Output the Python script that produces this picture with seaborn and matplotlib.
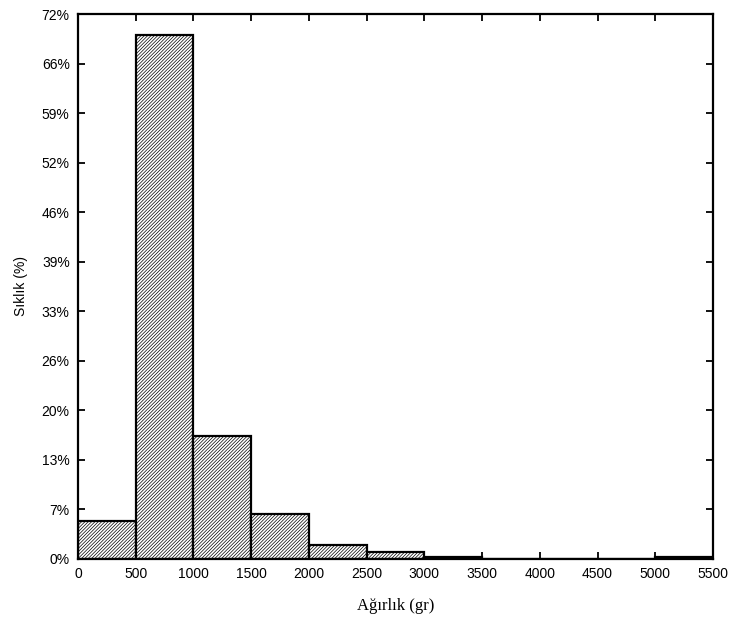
import numpy as np
import pandas as pd
import matplotlib
matplotlib.use("Agg")
import matplotlib.pyplot as plt
import seaborn as sns

# Weight classes (gr) and share of fish in each class (%)
bin_edges = [0, 500, 1000, 1500, 2000, 2500, 3000, 3500, 4000, 4500, 5000, 5500]
percentages = [5.0, 69.2, 16.3, 5.9, 1.9, 0.9, 0.3, 0.0, 0.0, 0.0, 0.3]
x_ticks = [0, 500, 1000, 1500, 2000, 2500, 3000, 3500, 4000, 4500, 5000, 5500]
y_tick_labels = ["0%", "7%", "13%", "20%", "26%", "33%", "39%", "46%", "52%", "59%", "66%", "72%"]
y_max = 72

sns.set_style("white")
plt.rcParams["font.family"] = ["Liberation Sans", "DejaVu Sans"]
plt.rcParams["hatch.linewidth"] = 0.5
plt.rcParams["text.color"] = "black"
plt.rcParams["axes.labelcolor"] = "black"
plt.rcParams["xtick.color"] = "black"
plt.rcParams["ytick.color"] = "black"

df = pd.DataFrame({
    "mid": [(a + b) / 2 for a, b in zip(bin_edges[:-1], bin_edges[1:])],
    "pct": percentages,
})

fig = plt.figure(figsize=(7.33, 6.28), dpi=100)
ax = fig.add_axes([0.1064, 0.1099, 0.8663, 0.8678])

sns.histplot(data=df, x="mid", weights="pct", bins=bin_edges, stat="count",
             fill=True, color="white", edgecolor="black", linewidth=1.6,
             alpha=1, ax=ax)
for p in ax.patches:
    p.set_hatch("//////////")

ax.set_xlim(0, 5500)
ax.set_ylim(0, y_max)
ax.set_xticks(x_ticks)
ax.set_xticklabels([str(t) for t in x_ticks], fontsize=10)
ax.set_yticks(np.linspace(0, y_max, len(y_tick_labels)))
ax.set_yticklabels(y_tick_labels, fontsize=10)

ax.tick_params(axis="both", direction="in", length=5, width=1.3,
               top=True, right=True, bottom=True, left=True, pad=6)
for s in ax.spines.values():
    s.set_linewidth(1.6)
    s.set_color("black")

ax.set_xlabel("Ağırlık (gr)", family=["Liberation Serif", "DejaVu Serif"],
              fontsize=12, labelpad=12)
ax.set_ylabel("Sıklık (%)", fontsize=10, labelpad=10)

fig.savefig("out.png", dpi=100)
